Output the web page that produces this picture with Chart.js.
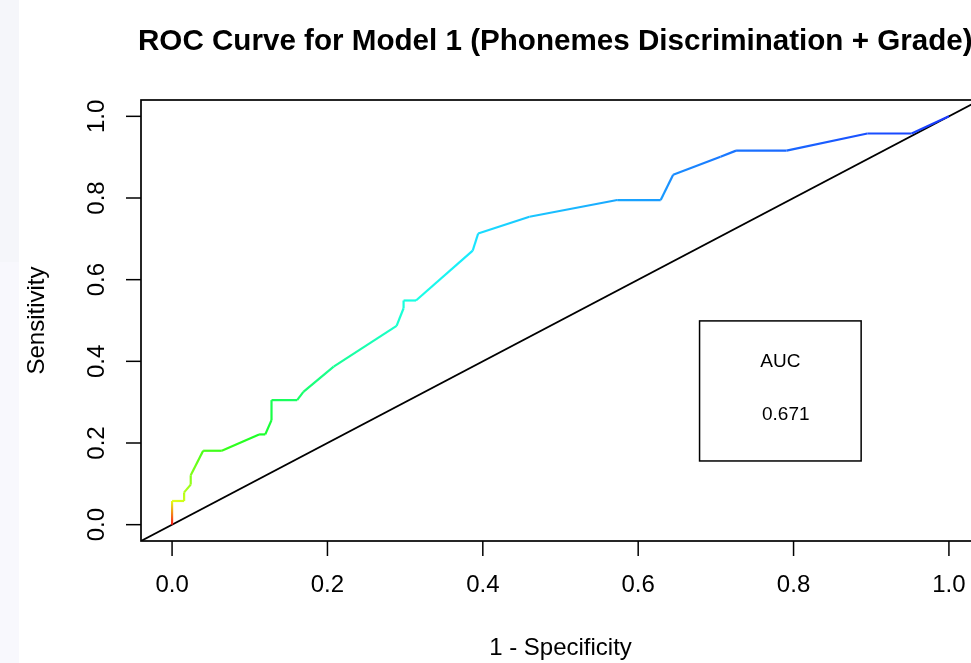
<!DOCTYPE html>
<html>
<head>
<meta charset="utf-8">
<script src="https://cdn.jsdelivr.net/npm/chart.js@4"></script>
<style>
  html, body { margin: 0; padding: 0; background: #ffffff; overflow: hidden; width: 971px; height: 663px; }
  #strip { position: absolute; left: 0; top: 0; width: 19px; height: 663px; background: #f8f8fd; }
  #strip-top { position: absolute; left: 0; top: 0; width: 19px; height: 262px; background: #f5f6fa; }
  #roc { position: absolute; left: 0; top: 0; }
</style>
</head>
<body>
<div id="strip"></div>
<div id="strip-top"></div>
<canvas id="roc" width="990" height="663"></canvas>
<script>
// ROC points (1 - specificity, sensitivity)
const fpr = [0, 0, 0.0155, 0.0155, 0.024, 0.024, 0.040, 0.064, 0.112, 0.120, 0.128, 0.128,
  0.161, 0.169, 0.208, 0.289, 0.298, 0.298, 0.314, 0.387, 0.394, 0.460, 0.573, 0.629,
  0.645, 0.706, 0.726, 0.791, 0.895, 0.952, 1.0];
const tpr = [0, 0.058, 0.058, 0.079, 0.098, 0.121, 0.181, 0.181, 0.221, 0.221, 0.256, 0.305,
  0.305, 0.325, 0.387, 0.487, 0.530, 0.549, 0.549, 0.671, 0.713, 0.754, 0.795, 0.795,
  0.857, 0.901, 0.916, 0.916, 0.958, 0.958, 1.0];

const diagX = [-0.04, 1.04];
const xTicks = [0, 0.2, 0.4, 0.6, 0.8, 1.0];
const yTicks = [0, 0.2, 0.4, 0.6, 0.8, 1.0];
const tickLabels = ['0.0', '0.2', '0.4', '0.6', '0.8', '1.0'];

const titleText = 'ROC Curve for Model 1 (Phonemes Discrimination + Grade)';
const xTitle = '1 - Specificity';
const yTitle = 'Sensitivity';
const aucLabel = 'AUC';
const aucValue = '0.671';
// AUC box corners and text anchors, in data units
const aucBoxX = [0.679, 0.887];
const aucBoxY = [0.156, 0.499];
const aucTextX = [0.783, 0.790];
const aucTextY = [0.398, 0.268];

const FONT = '"Liberation Sans", Arial, Helvetica, sans-serif';
const canvas = document.getElementById('roc');
const ctx2d = canvas.getContext('2d');

// rainbow colour by position along the curve, like a colorized ROC
function hueAt(i) {
  const t = (fpr[i] + tpr[i]) / 2;
  return 232 * Math.pow(t, 0.35);
}

function segColor(c) {
  const g = ctx2d.createLinearGradient(c.p0.x, c.p0.y, c.p1.x, c.p1.y);
  g.addColorStop(0, `hsl(${hueAt(c.p0DataIndex)}, 100%, 55%)`);
  g.addColorStop(1, `hsl(${hueAt(c.p1DataIndex)}, 100%, 55%)`);
  return g;
}

// R-style box, ticks, labels and annotation
const rAxes = {
  id: 'rAxes',
  afterDraw(chart) {
    const ctx = chart.ctx;
    const a = chart.chartArea;
    const xs = chart.scales.x;
    const ys = chart.scales.y;
    ctx.save();
    ctx.strokeStyle = '#000';
    ctx.fillStyle = '#000';
    ctx.lineWidth = 1.7;
    ctx.strokeRect(a.left, a.top, a.right - a.left, a.bottom - a.top);

    ctx.lineWidth = 1.5;
    ctx.font = '24px ' + FONT;
    ctx.textAlign = 'center';
    ctx.textBaseline = 'middle';
    xTicks.forEach((v, i) => {
      const px = xs.getPixelForValue(v);
      ctx.beginPath();
      ctx.moveTo(px, a.bottom);
      ctx.lineTo(px, a.bottom + 15);
      ctx.stroke();
      ctx.fillText(tickLabels[i], px, 585);
    });
    yTicks.forEach((v, i) => {
      const py = ys.getPixelForValue(v);
      ctx.beginPath();
      ctx.moveTo(a.left, py);
      ctx.lineTo(a.left - 15, py);
      ctx.stroke();
      ctx.save();
      ctx.translate(97, py);
      ctx.rotate(-Math.PI / 2);
      ctx.fillText(tickLabels[i], 0, 0);
      ctx.restore();
    });

    ctx.fillText(xTitle, (xs.getPixelForValue(0) + xs.getPixelForValue(1)) / 2, 648);
    ctx.save();
    ctx.translate(37, (a.top + a.bottom) / 2);
    ctx.rotate(-Math.PI / 2);
    ctx.fillText(yTitle, 0, 0);
    ctx.restore();

    ctx.font = 'bold 29.6px ' + FONT;
    ctx.textAlign = 'left';
    ctx.fillText(titleText, 138, 42);
    ctx.textAlign = 'center';

    // AUC box
    const bx0 = xs.getPixelForValue(aucBoxX[0]);
    const bx1 = xs.getPixelForValue(aucBoxX[1]);
    const by0 = ys.getPixelForValue(aucBoxY[1]);
    const by1 = ys.getPixelForValue(aucBoxY[0]);
    ctx.strokeRect(bx0, by0, bx1 - bx0, by1 - by0);
    ctx.font = '19px ' + FONT;
    ctx.fillText(aucLabel, xs.getPixelForValue(aucTextX[0]), ys.getPixelForValue(aucTextY[0]));
    ctx.fillText(aucValue, xs.getPixelForValue(aucTextX[1]), ys.getPixelForValue(aucTextY[1]));
    ctx.restore();
  }
};

new Chart(canvas, {
  type: 'line',
  data: {
    datasets: [
      {
        data: fpr.map((x, i) => ({ x: x, y: tpr[i] })),
        borderWidth: 2.2,
        pointRadius: 0,
        fill: false,
        tension: 0,
        segment: { borderColor: segColor },
      },
      {
        data: diagX.map((x) => ({ x: x, y: x })),
        borderColor: '#000000',
        borderWidth: 1.8,
        pointRadius: 0,
        fill: false,
      },
    ],
  },
  options: {
    responsive: false,
    animation: false,
    layout: { padding: { left: 141, top: 100, right: 10, bottom: 122 } },
    scales: {
      x: { type: 'linear', min: -0.04, max: 1.04, display: false },
      y: { type: 'linear', min: -0.04, max: 1.04, display: false },
    },
    plugins: {
      legend: { display: false },
      tooltip: { enabled: false },
      title: { display: false },
    },
  },
  plugins: [rAxes],
});
</script>
</body>
</html>
